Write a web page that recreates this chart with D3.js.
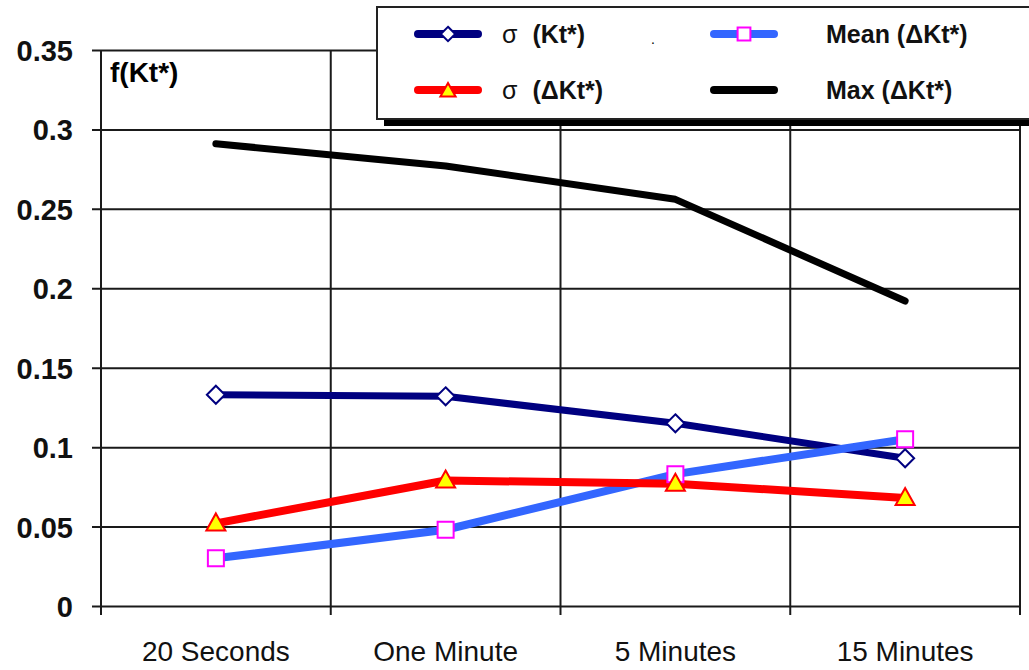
<!DOCTYPE html>
<html>
<head>
<meta charset="utf-8">
<script src="https://cdn.jsdelivr.net/npm/d3@7"></script>
<style>
  body { margin: 0; background: #fff; }
  svg { display: block; font-family: "Liberation Sans", Arial, sans-serif; }
</style>
</head>
<body>
<svg id="chart" width="1029" height="670"></svg>
<script>
// data
var categories = ['20 Seconds', 'One Minute', '5 Minutes', '15 Minutes'];
var sigmaKt = [0.133, 0.132, 0.115, 0.093];
var sigmaDeltaKt = [0.052, 0.079, 0.077, 0.068];
var meanDeltaKt = [0.030, 0.048, 0.083, 0.105];
var maxDeltaKt = [0.291, 0.277, 0.256, 0.192];
var yTicks = [0, 0.05, 0.1, 0.15, 0.2, 0.25, 0.3, 0.35];

var series = [
    {name: 'maxD', values: maxDeltaKt, color: '#000000', width: 7, marker: null},
    {name: 'sigma', values: sigmaKt, color: '#000080', width: 7, marker: 'diamond', mStroke: '#000080', mFill: '#fff'},
    {name: 'meanD', values: meanDeltaKt, color: '#3366ff', width: 8, marker: 'square', mStroke: '#ff00ff', mFill: '#fff'},
    {name: 'sigmaD', values: sigmaDeltaKt, color: '#ff0000', width: 8, marker: 'triangle', mStroke: '#ff0000', mFill: '#ffff00'}
];

var margin = {top: 50, right: 9, bottom: 64, left: 101},
    width = 1029 - margin.left - margin.right,
    height = 670 - margin.top - margin.bottom;

var svg = d3.select('#chart')
    .append('g')
    .attr('transform', 'translate(' + margin.left + ',' + margin.top + ')');

var x = d3.scaleBand().domain(categories).range([0, width]).padding(0);
var y = d3.scaleLinear().domain([0, 0.35]).range([height, 0]);
var cx = function(i) { return x(categories[i]) + x.bandwidth() / 2; };

// horizontal grid + y labels
var yAxis = d3.axisLeft(y)
    .tickValues(yTicks)
    .tickSize(-width)
    .tickSizeOuter(0)
    .tickFormat(function(d) { return d3.format('~g')(d); });

var gy = svg.append('g').attr('class', 'axisY').call(yAxis);
gy.select('.domain').remove();
gy.selectAll('.tick line').attr('x1', -9).attr('stroke', '#1a1a1a').attr('stroke-width', 2);
gy.selectAll('.tick text')
    .attr('x', -28)
    .attr('dy', '0.36em')
    .style('font-size', '29px')
    .style('font-weight', 'bold')
    .attr('fill', '#111');

// vertical grid at category boundaries
var edges = categories.map(function(c) { return x(c); }).concat([width]);
svg.append('g').selectAll('line')
    .data(edges)
    .enter().append('line')
    .attr('x1', function(d) { return d; })
    .attr('x2', function(d) { return d; })
    .attr('y1', 0)
    .attr('y2', height + 9)
    .attr('stroke', '#1a1a1a')
    .attr('stroke-width', 2);

// x labels
var gx = svg.append('g')
    .attr('transform', 'translate(0,' + height + ')')
    .call(d3.axisBottom(x).tickSize(0));
gx.select('.domain').remove();
gx.selectAll('.tick text')
    .attr('y', 55)
    .attr('dy', null)
    .style('font-size', '28px')
    .attr('fill', '#111');

// f(Kt*) label
svg.append('text')
    .attr('x', 9)
    .attr('y', 32)
    .style('font-size', '28px')
    .style('font-weight', 'bold')
    .text('f(Kt*)');

// lines
var line = d3.line()
    .x(function(d, i) { return cx(i); })
    .y(function(d) { return y(d); });

svg.selectAll('.series')
    .data(series)
    .enter().append('path')
    .attr('class', 'series')
    .attr('d', function(s) { return line(s.values); })
    .attr('fill', 'none')
    .attr('stroke', function(s) { return s.color; })
    .attr('stroke-width', function(s) { return s.width; })
    .attr('stroke-linejoin', 'round')
    .attr('stroke-linecap', 'round');

function markerPath(type) {
    if (type === 'diamond') return 'M0,-9L9,0L0,9L-9,0Z';
    if (type === 'square') return 'M-8,-8H8V8H-8Z';
    if (type === 'triangle') return 'M0,-10L9.5,7H-9.5Z';
    return '';
}

series.forEach(function(s) {
    if (!s.marker) return;
    svg.append('g').selectAll('path')
        .data(s.values)
        .enter().append('path')
        .attr('transform', function(d, i) { return 'translate(' + cx(i) + ',' + y(d) + ')'; })
        .attr('d', markerPath(s.marker))
        .attr('fill', s.mFill)
        .attr('stroke', s.mStroke)
        .attr('stroke-width', 2);
});

// legend
var legend = d3.select('#chart').append('g').attr('class', 'legend');
legend.append('rect')
    .attr('x', 384).attr('y', 12).attr('width', 700).attr('height', 114)
    .attr('fill', '#000');
legend.append('rect')
    .attr('x', 377).attr('y', 7).attr('width', 700).attr('height', 112)
    .attr('fill', '#fff').attr('stroke', '#222').attr('stroke-width', 2);

var legendItems = [
    {s: series[1], label: ['σ  ', '(Kt*)'], x: 418, y: 34},
    {s: series[3], label: ['σ ', '(ΔKt*)'], x: 418, y: 90},
    {s: series[2], label: ['Mean  (ΔKt*)', ''], x: 714, y: 34},
    {s: series[0], label: ['Max  (ΔKt*)', ''], x: 714, y: 90}
];

legendItems.forEach(function(it) {
    var g = legend.append('g').attr('transform', 'translate(' + it.x + ',' + it.y + ')');
    g.append('line')
        .attr('x1', 0).attr('x2', 60)
        .attr('stroke', it.s.color)
        .attr('stroke-width', 8)
        .attr('stroke-linecap', 'round');
    if (it.s.marker) {
        g.append('path')
            .attr('transform', 'translate(30,' + (it.s.marker === 'triangle' ? 1 : 0) + ') scale(0.8)')
            .attr('d', markerPath(it.s.marker))
            .attr('fill', it.s.mFill)
            .attr('stroke', it.s.mStroke)
            .attr('stroke-width', 2.5);
    }
    var t = g.append('text')
        .attr('x', it.s.marker === 'square' || !it.s.marker ? 112 : 84)
        .attr('y', 9)
        .style('font-size', '25px')
        .style('font-weight', 'bold')
        .attr('fill', '#111');
    t.append('tspan').text(it.label[0])
        .style('font-weight', it.label[1] ? 'normal' : 'bold');
    if (it.label[1]) t.append('tspan').attr('dx', 8).text(it.label[1]);
});

legend.append('text')
    .attr('x', 651).attr('y', 44)
    .style('font-size', '14px')
    .text('.');
</script>
</body>
</html>
